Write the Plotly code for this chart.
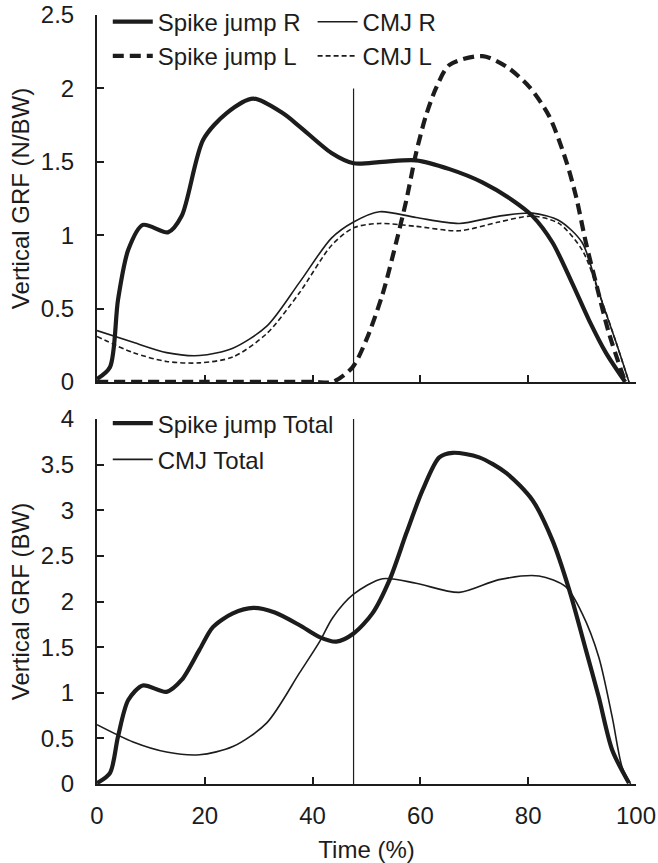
import plotly.graph_objects as go

# ---------------- data ----------------
time_spike_R = [0, 2.4, 3.9, 5.8, 8.5, 13.2, 15.7, 19.7, 24, 29, 34.5, 37.6, 43.5, 47.6,
                53, 59.2, 65.4, 71.5, 77, 80.8, 84.5, 88.2, 91.3, 94.4, 98]
spike_R = [0.02, 0.1, 0.56, 0.9, 1.07, 1.02, 1.13, 1.65, 1.83, 1.93, 1.83, 1.74, 1.56, 1.49,
           1.50, 1.51, 1.45, 1.36, 1.24, 1.13, 0.95, 0.67, 0.42, 0.2, 0.0]

time_spike_L = [0, 20, 40, 43.7, 47.4, 50, 53, 55.5, 57.4, 59.2, 61, 63, 65.4, 71.5, 75.9,
                80.2, 83.9, 87, 88.9, 90.7, 92.6, 95, 98]
spike_L = [0, 0, 0, 0, 0.1, 0.29, 0.6, 0.95, 1.24, 1.56, 1.81, 2.01, 2.16, 2.22, 2.15,
           2.01, 1.81, 1.51, 1.26, 0.95, 0.67, 0.33, 0.0]

time_cmj = [0, 6.7, 12.9, 19, 25.2, 31.5, 37.6, 43.5, 47.6, 52.4, 59.2, 67.2, 74.6, 80.8,
            85.7, 90, 93.1, 96.3, 98.7]
cmj_R = [0.35, 0.27, 0.2, 0.18, 0.23, 0.38, 0.68, 0.98, 1.09, 1.16, 1.12, 1.08, 1.13, 1.15,
         1.1, 0.95, 0.61, 0.27, 0.0]
cmj_L = [0.31, 0.2, 0.14, 0.13, 0.17, 0.33, 0.61, 0.93, 1.05, 1.08, 1.06, 1.03, 1.09, 1.13,
         1.08, 0.9, 0.61, 0.27, 0.0]

time_spike_total = [0, 2.4, 3.9, 5.8, 8.5, 12.9, 15.7, 19, 21.5, 25.2, 29, 33, 37.6, 41.3,
                    44.4, 47.6, 51.1, 54.3, 57.4, 60.4, 63.5, 66, 70.9, 75.9, 80.8, 84.5,
                    87.6, 90.7, 93.1, 95.6, 98.7]
spike_total = [0.01, 0.12, 0.52, 0.92, 1.08, 1.01, 1.14, 1.47, 1.72, 1.87, 1.93, 1.88, 1.74,
               1.61, 1.56, 1.65, 1.87, 2.24, 2.75, 3.22, 3.58, 3.63, 3.58, 3.41, 3.11, 2.67,
               2.13, 1.47, 0.95, 0.37, 0.01]

time_cmj_total = [0, 6.7, 12.9, 19, 25.2, 31.5, 37.6, 41.3, 43.7, 47.6, 53, 59.2, 67.2, 74.6,
                  82, 87, 90, 93.1, 95.6, 97.4, 99]
cmj_total = [0.65, 0.46, 0.35, 0.32, 0.41, 0.67, 1.22, 1.56, 1.82, 2.08, 2.25, 2.2, 2.1, 2.24,
             2.28, 2.16, 1.87, 1.39, 0.73, 0.19, 0.0]

event_time = 47.6          # vertical marker
event_top_max = 2.0
event_bottom_max = 4.0

x_ticks = [0, 20, 40, 60, 80, 100]
y_ticks_top = [0, 0.5, 1, 1.5, 2, 2.5]
y_ticks_top_text = ["0", "0.5", "1", "1.5", "2", "2.5"]
y_ticks_bot = [0, 0.5, 1, 1.5, 2, 2.5, 3, 3.5, 4]
y_ticks_bot_text = ["0", "0.5", "1", "1.5", "2", "2.5", "3", "3.5", "4"]

# ---------------- styling ----------------
INK = "#1c1c1c"
FONT = "Liberation Sans, Arial, sans-serif"
FS = 24
THICK = 4.2
THIN = 1.6

fig = go.Figure()

def add(x, y, name, width, dash, xa, ya, legend, group):
    fig.add_trace(go.Scatter(
        x=x, y=y, name=name, mode="lines",
        line=dict(color=INK, width=width, dash=dash, shape="spline", smoothing=0.8),
        xaxis=xa, yaxis=ya, legend=legend, legendgroup=group, hoverinfo="skip"))

add(time_spike_R, spike_R, "Spike jump R", THICK, "solid", "x", "y", "legend", "a")
add(time_spike_L, spike_L, "Spike jump L", THICK, "11px,6px", "x", "y", "legend", "b")
add(time_cmj, cmj_R, "CMJ R", THIN, "solid", "x", "y", "legend2", "c")
add(time_cmj, cmj_L, "CMJ L", THIN, "5px,3px", "x", "y", "legend2", "d")
add(time_spike_total, spike_total, "Spike jump Total", THICK, "solid", "x2", "y2", "legend3", "e")
add(time_cmj_total, cmj_total, "CMJ Total", THIN, "solid", "x2", "y2", "legend3", "f")

fig.add_shape(type="line", xref="x", yref="y", x0=event_time, x1=event_time,
              y0=0, y1=event_top_max, line=dict(color=INK, width=1.2))
fig.add_shape(type="line", xref="x2", yref="y2", x0=event_time, x1=event_time,
              y0=0, y1=event_bottom_max, line=dict(color=INK, width=1.2))

axis_common = dict(showline=True, linecolor=INK, linewidth=2, ticks="inside",
                   ticklen=7, tickwidth=2, tickcolor=INK, showgrid=False,
                   zeroline=False, automargin=False, ticklabeloverflow="allow",
                   tickfont=dict(family=FONT, size=FS, color=INK))

top_dom = [0.5228, 1.0]
bot_dom = [0.0, 0.4746]

legend_common = dict(xanchor="left", yanchor="top", bgcolor="rgba(0,0,0,0)",
                     font=dict(family=FONT, size=FS, color=INK), itemwidth=40)

fig.update_layout(
    width=658, height=863,
    margin=dict(l=97, r=22, t=15, b=79, autoexpand=False),
    paper_bgcolor="white", plot_bgcolor="white",
    font=dict(family=FONT, size=FS, color=INK),
    xaxis=dict(domain=[0, 1], anchor="y", range=[0, 100], tickvals=x_ticks,
               showticklabels=False, **axis_common),
    yaxis=dict(domain=top_dom, anchor="x", range=[0, 2.5], tickvals=y_ticks_top,
               ticktext=y_ticks_top_text, ticklabelstandoff=16,
               title=dict(text="Vertical GRF (N/BW)", standoff=4,
                          font=dict(family=FONT, size=FS, color=INK)),
               **axis_common),
    xaxis2=dict(domain=[0, 1], anchor="y2", range=[0, 100], tickvals=x_ticks,
                ticklabelstandoff=9,
                title=dict(text="Time (%)", standoff=13,
                           font=dict(family=FONT, size=FS, color=INK)),
                **axis_common),
    yaxis2=dict(domain=bot_dom, anchor="x2", range=[0, 4], tickvals=y_ticks_bot,
                ticktext=y_ticks_bot_text, ticklabelstandoff=16,
                title=dict(text="Vertical GRF (BW)", standoff=4,
                           font=dict(family=FONT, size=FS, color=INK)),
                **axis_common),
    legend=dict(x=0.02, y=1.02, tracegroupgap=0, **legend_common),
    legend2=dict(x=0.40, y=1.02, tracegroupgap=0, **legend_common),
    legend3=dict(x=0.02, y=0.498, tracegroupgap=2, **legend_common),
    showlegend=True,
)

# remove the default 8px page margin so the figure fills the window exactly
fig.write_html("out.html", config={"displayModeBar": False},
               post_script="document.body.style.margin='0';")
